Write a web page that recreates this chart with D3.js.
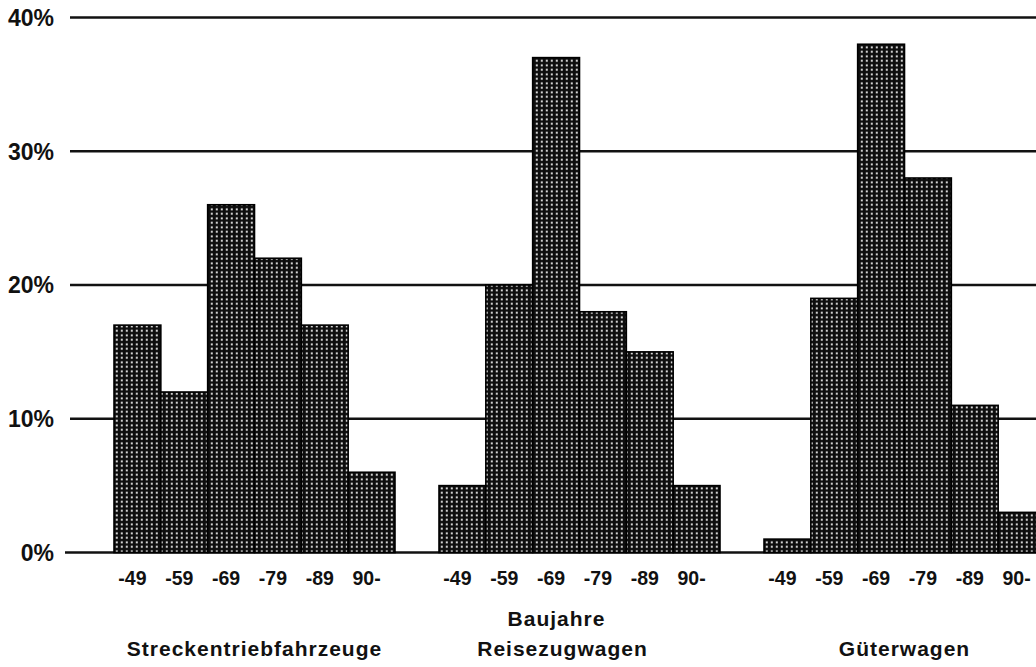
<!DOCTYPE html>
<html>
<head>
<meta charset="utf-8">
<script src="https://cdn.jsdelivr.net/npm/d3@7"></script>
<style>
html,body{margin:0;padding:0;background:#fff;}
svg{display:block;font-family:"Liberation Sans",Arial,Helvetica,sans-serif;}
</style>
</head>
<body>
<svg id="chart" width="1036" height="667"></svg>
<script>
const groups = ["Streckentriebfahrzeuge", "Reisezugwagen", "Güterwagen"];
const periods = ["-49", "-59", "-69", "-79", "-89", "90-"];
const streckentriebfahrzeuge = [17, 12, 26, 22, 17, 6];
const reisezugwagen = [5, 20, 37, 18, 15, 5];
const gueterwagen = [1, 19, 38, 28, 11, 3];
const yTicks = [0, 10, 20, 30, 40];
const xTitle = "Baujahre";

const seriesValues = [streckentriebfahrzeuge, reisezugwagen, gueterwagen];
const groupLabelShift = [0, -17, 0];

const svg = d3.select("#chart");
const W = 1036, H = 667;

const y = d3.scaleLinear().domain([0, 40]).range([552.5, 17.5]);
const xg = d3.scaleBand().domain(groups).range([114, 1045]).paddingInner(0.1354).paddingOuter(0);
const xi = d3.scaleBand().domain(periods).range([0, xg.bandwidth()]).padding(0);

// pattern
const defs = svg.append("defs");
const pat = defs.append("pattern").attr("id", "dots").attr("patternUnits", "userSpaceOnUse")
  .attr("width", 5).attr("height", 4.5);
pat.append("rect").attr("width", 5).attr("height", 4.5).attr("fill", "#0e0e0e");
pat.append("rect").attr("x", 1.8).attr("y", 1.4).attr("width", 2).attr("height", 1.8).attr("fill", "#f0f0f0");

// gridlines
svg.append("g").selectAll("line").data(yTicks).join("line")
  .attr("x1", d => d === 0 ? 65 : 70).attr("x2", W)
  .attr("y1", d => y(d)).attr("y2", d => y(d))
  .attr("stroke", "#111").attr("stroke-width", 2.6);

// y labels
svg.append("g").selectAll("text").data(yTicks).join("text")
  .attr("x", 54).attr("y", d => y(d)).attr("dy", "0.36em")
  .attr("text-anchor", "end").attr("font-size", 23).attr("font-weight", "bold")
  .attr("fill", "#111").text(d => d + "%");

// bars
const gg = svg.append("g").selectAll("g").data(groups).join("g")
  .attr("transform", d => `translate(${xg(d)},0)`);
gg.selectAll("rect").data((g, i) => periods.map((p, j) => ({p, v: seriesValues[i][j]}))).join("rect")
  .attr("x", d => xi(d.p)).attr("width", xi.bandwidth())
  .attr("y", d => y(d.v)).attr("height", d => y(0) - y(d.v))
  .attr("fill", "url(#dots)").attr("stroke", "#000").attr("stroke-width", 1.6);

// tick labels
gg.selectAll("text.tick").data(periods).join("text").attr("class", "tick")
  .attr("x", d => xi(d) + xi.bandwidth() / 2 - 5).attr("y", 585)
  .attr("text-anchor", "middle").attr("font-size", 19.5).attr("font-weight", "bold")
  .attr("fill", "#111").text(d => d);

// group labels
gg.append("text").attr("x", (d, i) => xg.bandwidth() / 2 + groupLabelShift[i]).attr("y", 656)
  .attr("text-anchor", "middle").attr("font-size", 21).attr("font-weight", "bold")
  .attr("letter-spacing", 1).attr("fill", "#111").text(d => d);

// x title
svg.append("text").attr("x", xg(groups[1]) + xg.bandwidth() / 2 - 23).attr("y", 626)
  .attr("text-anchor", "middle").attr("font-size", 21).attr("font-weight", "bold")
  .attr("letter-spacing", 1).attr("fill", "#111").text(xTitle);
</script>
</body>
</html>
